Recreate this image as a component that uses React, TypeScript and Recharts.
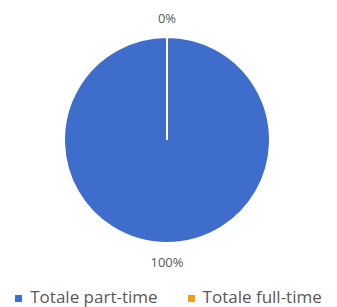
import { PieChart, Pie, Cell, Legend } from "recharts"

const categories = ["Totale part-time", "Totale full-time"]
const values = [100, 0]
const colors = ["#3f6dcb", "#f59a1b"]

const data = categories.map((name, i) => ({ name, value: values[i] }))

const RADIAN = Math.PI / 180

function renderLabel(props: any) {
  const { cx, cy, midAngle, outerRadius, percent } = props
  const r = outerRadius + 19
  const x = cx + r * Math.cos(-midAngle * RADIAN)
  const y = cy + r * Math.sin(-midAngle * RADIAN)
  return (
    <text x={x} y={y} fill="#595959" fontSize={13} textAnchor="middle" dominantBaseline="central">
      {`${Math.round(percent * 100)}%`}
    </text>
  )
}

// legend keeps the series order of the source instead of recharts' sorting
function renderLegend() {
  return (
    <div style={{ display: "flex", justifyContent: "center", gap: 30, fontSize: 17, lineHeight: "20px", color: "#595959" }}>
      {categories.map((name, i) => (
        <div key={name} style={{ display: "flex", alignItems: "center" }}>
          <span style={{ width: 7, height: 7, background: colors[i], display: "inline-block", marginRight: 8, marginTop: 3 }} />
          {name}
        </div>
      ))}
    </div>
  )
}

export default function App() {
  return (
    <div style={{ position: "absolute", left: 0, top: 0, width: 337, height: 307, background: "#fff", fontFamily: "'Open Sans', sans-serif" }}>
      <PieChart width={337} height={307} margin={{ top: 0, right: 0, bottom: 0, left: 0 }}>
        <Pie
          data={data}
          dataKey="value"
          nameKey="name"
          cx={167}
          cy={140}
          outerRadius={103}
          startAngle={90}
          endAngle={-270}
          stroke="#fff"
          strokeWidth={2}
          label={renderLabel}
          labelLine={false}
          isAnimationActive={false}
        >
          {data.map((d, i) => (
            <Cell key={d.name} fill={colors[i]} />
          ))}
        </Pie>
        <Legend
          verticalAlign="bottom"
          align="center"
          content={renderLegend}
          wrapperStyle={{ bottom: 0, left: 0, width: 337 }}
        />
      </PieChart>
    </div>
  )
}
